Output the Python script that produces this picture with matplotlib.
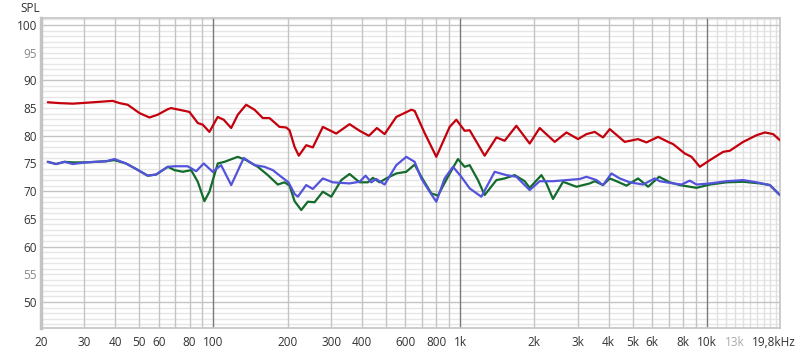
import numpy as np
import matplotlib
matplotlib.use("Agg")
import matplotlib.pyplot as plt
import matplotlib.transforms as mtransforms
from matplotlib.ticker import FixedLocator, NullFormatter

plt.rcParams['font.family'] = ['Open Sans', 'DejaVu Sans']

# red curve
red_f = [21.3, 23.7, 26.9, 31.4, 39.0, 41.6, 44.9, 50.1, 55.0, 59.4, 65.3, 67.3, 76.3, 79.9,
         86.4, 90.5, 96.3, 104, 110, 118, 125.5, 135.7, 146.7, 158.5, 168.7, 185.3, 197.2,
         203.4, 213.2, 221.8, 237.7, 252.8, 277.6, 314.6, 356.2, 391.2, 426.6, 459.7, 494,
         551.1, 634, 653.9, 685.1, 717.8, 800.7, 906.6, 965, 1043, 1093, 1257, 1403, 1515,
         1690, 1914, 2101, 2418, 2697, 3006, 3251, 3512, 3795, 4042, 4648, 5264, 5692, 6346,
         7034, 7300, 8142, 8669, 9368, 10285, 11646, 12397, 14041, 15905, 17193, 18578, 19783]
red_db = [86.05, 85.9, 85.8, 86.0, 86.3, 85.9, 85.6, 84.1, 83.3, 83.8, 84.8, 85.0, 84.5, 84.3,
          82.3, 82.0, 80.7, 83.4, 82.9, 81.4, 83.8, 85.6, 84.7, 83.2, 83.2, 81.6, 81.5,
          81.0, 78.0, 76.4, 78.3, 77.9, 81.6, 80.4, 82.1, 80.9, 80.0, 81.4, 80.3,
          83.4, 84.7, 84.5, 82.5, 80.5, 76.2, 81.6, 82.9, 80.9, 81.0, 76.4, 79.7, 79.1,
          81.8, 78.6, 81.4, 78.9, 80.6, 79.4, 80.3, 80.7, 79.7, 81.2, 78.9, 79.4, 78.8, 79.8,
          78.8, 78.5, 76.8, 76.2, 74.4, 75.6, 77.1, 77.3, 78.9, 80.1, 80.6, 80.3, 79.2]

# blue curve
blue_f = [21.3, 23.0, 24.9, 26.9, 30.4, 36.7, 39.7, 44.2, 48.6, 54.1, 58.5, 65.3, 69.5, 78.6,
          85.1, 91.3, 99.3, 107.4, 118.0, 132.7, 146.7, 161.0, 174.0, 188.2, 201.5, 213.2,
          219.8, 237.7, 252.8, 277.6, 304.8, 356.2, 391.2, 413.7, 436.3, 457.1, 494.0, 551.1,
          604.9, 653.9, 696.1, 752.1, 800.7, 865.2, 935.0, 1011, 1093, 1219, 1380, 1539, 1690,
          1914, 2101, 2379, 2697, 3053, 3251, 3569, 3795, 4106, 4438, 4871, 5515, 6152, 6447,
          7300, 7899, 8531, 9083, 10285, 12022, 14041, 15905, 18013, 19783]
blue_db = [75.3, 74.9, 75.3, 74.9, 75.2, 75.4, 75.8, 75.0, 74.0, 72.8, 73.0, 74.4, 74.5, 74.5,
           73.6, 75.0, 73.5, 74.7, 71.1, 76.0, 74.7, 74.4, 73.8, 72.6, 71.6, 69.5,
           69.0, 71.1, 70.4, 72.3, 71.6, 71.4, 71.7, 72.8, 71.6, 72.2, 71.2, 74.7,
           76.2, 75.3, 72.3, 69.9, 68.1, 72.3, 74.4, 72.6, 70.5, 69.0, 73.5, 72.9, 72.6,
           70.2, 71.8, 71.8, 72.0, 72.2, 72.6, 72.0, 71.1, 73.2, 72.3, 71.6, 71.2, 72.3, 71.8,
           71.4, 71.2, 71.9, 71.2, 71.4, 71.8, 72.0, 71.6, 71.1, 69.3]

# green curve
green_f = [21.3, 23.0, 24.9, 26.9, 30.4, 36.7, 39.7, 44.2, 48.6, 54.1, 58.5, 65.3, 69.5, 75.1,
           81.2, 86.4, 91.9, 96.3, 104.1, 110.8, 125.5, 135.7, 151.2, 166.1, 182.3, 194.1,
           203.4, 213.2, 226.9, 241.3, 256.9, 277.6, 300.3, 329.7, 356.2, 391.2, 422.7, 442.8,
           471.5, 501.8, 551.1, 604.9, 653.9, 696.1, 764.1, 812.8, 892.2, 979.7, 1043, 1093,
           1181, 1257, 1403, 1515, 1664, 1827, 1914, 2135, 2237, 2379, 2613, 2961, 3353, 3512,
           3795, 4042, 4302, 4724, 5264, 5781, 6404, 7078, 7775, 9083, 10285, 12022, 14041,
           16406, 18013, 19783]
green_db = [75.3, 74.9, 75.3, 75.2, 75.2, 75.4, 75.6, 75.0, 74.0, 72.8, 73.0, 74.4, 73.8, 73.5,
            73.8, 71.7, 68.2, 69.9, 75.0, 75.3, 76.2, 75.6, 74.4, 72.9, 71.2, 71.6,
            71.0, 68.2, 66.6, 68.1, 68.0, 69.9, 69.0, 72.0, 73.1, 71.6, 71.6, 72.4,
            71.6, 72.3, 73.2, 73.5, 74.8, 72.6, 69.6, 69.2, 72.6, 75.8, 74.4, 74.7,
            72.0, 69.3, 72.0, 72.3, 72.9, 71.8, 70.6, 72.9, 71.4, 68.6, 71.7, 70.8, 71.4, 71.8,
            71.1, 72.3, 71.8, 71.0, 72.3, 70.8, 72.6, 71.6, 71.1, 70.6, 71.2, 71.6, 71.7,
            71.4, 71.1, 69.3]

xtick_vals = [20, 30, 40, 50, 60, 80, 100, 200, 300, 400, 600, 800, 1000, 2000, 3000, 4000,
              5000, 6000, 8000, 10000, 13000, 19800]
xtick_labels = ['20', '30', '40', '50', '60', '80', '100', '200', '300', '400', '600', '800',
                '1k', '2k', '3k', '4k', '5k', '6k', '8k', '10k', '13k', '19,8kHz']
ytick_vals = [50, 55, 60, 65, 70, 75, 80, 85, 90, 95, 100]

fig = plt.figure(figsize=(8, 3.53), dpi=100)
ax = fig.add_axes([0.0513, 0.0708, 0.9237, 0.8782])
ax.set_xscale('log')
ax.set_xlim(20, 19800)
ax.set_ylim(45.3, 101.26)

# grid: vertical lines
for m in [20, 30, 40, 50, 60, 70, 80, 90, 200, 300, 400, 500, 600, 700, 800, 900,
          2000, 3000, 4000, 5000, 6000, 7000, 8000, 9000]:
    ax.axvline(m, color='#c4c4c4', lw=1, zorder=1)
for m in range(11000, 20000, 1000):
    ax.axvline(m, color='#e0e0e0', lw=1, zorder=1)
for m in [100, 1000, 10000]:
    ax.axvline(m, color='#7a7a7a', lw=1, zorder=1.5)
# horizontal lines
for v in range(46, 102):
    if v % 10 == 0:
        ax.axhline(v, color='#c4c4c4', lw=1, zorder=1.2)
    else:
        ax.axhline(v, color='#e6e6e6', lw=1, zorder=0.9)

lw = 1.6
style = dict(lw=lw, solid_joinstyle='round', solid_capstyle='round')
ax.plot(green_f, green_db, color='#136b2c', zorder=3, **style)
ax.plot(blue_f, blue_db, color='#5353dc', zorder=3.1, **style)
ax.plot(red_f, red_db, color='#c4000c', zorder=3.2, **style)

ax.xaxis.set_major_locator(FixedLocator(xtick_vals))
ax.set_xticklabels(xtick_labels)
ax.xaxis.set_minor_formatter(NullFormatter())
ax.xaxis.set_minor_locator(FixedLocator([]))
ax.set_yticks(ytick_vals)
ax.set_yticklabels([str(v) for v in ytick_vals])
ax.tick_params(axis='both', length=0, labelsize=8.5, colors='#333333')
ax.tick_params(axis='x', pad=6)
ax.tick_params(axis='y', pad=3)
for lab in ax.get_yticklabels():
    if lab.get_text() in ('95', '55'):
        lab.set_color('#8a8a8a')
shift = mtransforms.ScaledTranslation(-6 / 100, 0, fig.dpi_scale_trans)
for lab in ax.get_xticklabels():
    if lab.get_text() == '13k':
        lab.set_color('#aaaaaa')
    if lab.get_text() == '19,8kHz':
        lab.set_transform(lab.get_transform() + shift)

for s in ['top', 'right', 'bottom']:
    ax.spines[s].set_color('#c4c4c4')
    ax.spines[s].set_linewidth(1.2)
ax.spines['left'].set_color('#c4c4c4')
ax.spines['left'].set_linewidth(2.5)

fig.text(20 / 800, 1 - 8 / 353, 'SPL', fontsize=8.5, color='#333333', ha='left', va='center')

fig.savefig('out.png', dpi=100, facecolor='white')
